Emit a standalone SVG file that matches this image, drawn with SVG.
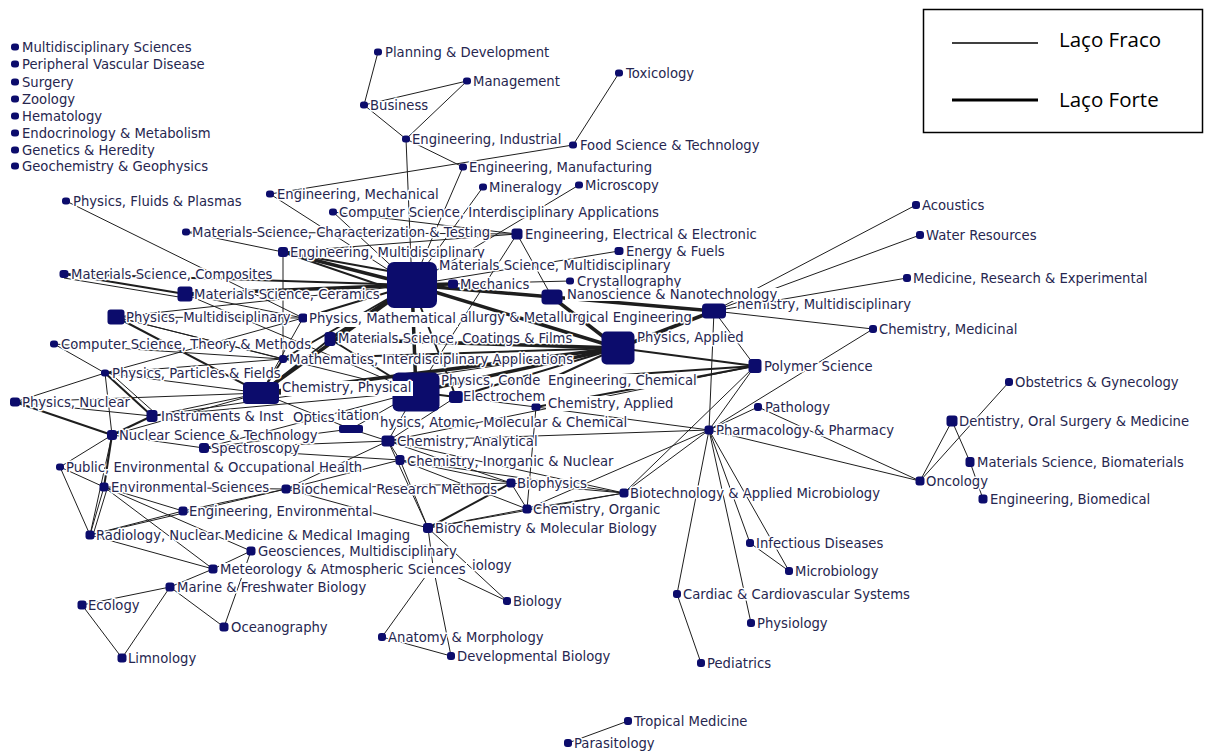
<svg xmlns="http://www.w3.org/2000/svg" width="1218" height="755" viewBox="0 0 1218 755">
<style>
.e{stroke:#1e1e1e;stroke-width:1;fill:none}
.m{stroke-width:2}
.k{stroke-width:3.5}
.n{fill:#0c0c6c}
.t{font-family:"DejaVu Sans","Liberation Sans",sans-serif;font-size:13.2px;fill:#26264f;stroke:#fff;stroke-width:3;paint-order:stroke;stroke-linejoin:round}
.w{fill:#fff}
.lg{font-family:"Open Sans","Liberation Sans",sans-serif;font-size:20.5px;fill:#000}
</style>
<rect width="1218" height="755" fill="#fff"/>
<g id="connectors" class="e">
<line x1="378" y1="52" x2="364" y2="105"/>
<line x1="364" y1="105" x2="467" y2="81"/>
<line x1="364" y1="105" x2="406" y2="139"/>
<line x1="467" y1="81" x2="406" y2="139"/>
<line x1="406" y1="139" x2="463" y2="167"/>
<line x1="406" y1="139" x2="412" y2="285"/>
<line x1="619" y1="73" x2="573" y2="145"/>
<line x1="573" y1="145" x2="270" y2="194"/>
<line x1="463" y1="167" x2="412" y2="285"/>
<line x1="483" y1="187" x2="412" y2="285"/>
<line x1="579" y1="185" x2="412" y2="285"/>
<line x1="270" y1="194" x2="412" y2="285"/>
<line x1="333" y1="212" x2="412" y2="285"/>
<line x1="66" y1="201" x2="303" y2="318"/>
<line x1="186" y1="232" x2="283" y2="252"/>
<line x1="517" y1="234" x2="186" y2="232"/>
<line x1="517" y1="234" x2="283" y2="252"/>
<line x1="517" y1="234" x2="416" y2="392"/>
<line x1="517" y1="234" x2="552" y2="297"/>
<line x1="517" y1="234" x2="333" y2="212"/>
<line x1="619" y1="251" x2="412" y2="285"/>
<line x1="570" y1="281" x2="412" y2="285"/>
<line x1="283" y1="252" x2="283" y2="359"/>
<line class="k" x1="283" y1="252" x2="412" y2="285"/>
<line class="m" x1="283" y1="252" x2="412" y2="296"/>
<line class="m" x1="283" y1="252" x2="405" y2="274"/>
<line class="k" x1="412" y1="285" x2="453" y2="284"/>
<line class="k" x1="412" y1="285" x2="552" y2="297"/>
<line class="k" x1="412" y1="285" x2="618" y2="348"/>
<line class="m" x1="412" y1="285" x2="714" y2="311"/>
<line class="k" x1="412" y1="285" x2="261" y2="393"/>
<line class="k" x1="412" y1="285" x2="416" y2="392"/>
<line class="k" x1="412" y1="285" x2="330" y2="339"/>
<line class="k" x1="412" y1="285" x2="185" y2="294"/>
<line class="m" x1="412" y1="285" x2="64" y2="274"/>
<line class="m" x1="412" y1="285" x2="303" y2="318"/>
<line x1="412" y1="285" x2="116" y2="317"/>
<line class="m" x1="412" y1="285" x2="283" y2="359"/>
<line class="m" x1="412" y1="285" x2="456" y2="397"/>
<line class="k" x1="552" y1="297" x2="618" y2="348"/>
<line class="k" x1="552" y1="297" x2="714" y2="311"/>
<line class="k" x1="618" y1="348" x2="714" y2="311"/>
<line class="k" x1="618" y1="348" x2="416" y2="392"/>
<line class="k" x1="618" y1="348" x2="261" y2="393"/>
<line class="k" x1="618" y1="348" x2="330" y2="339"/>
<line class="m" x1="618" y1="348" x2="755" y2="366"/>
<line class="m" x1="618" y1="348" x2="456" y2="397"/>
<line class="m" x1="618" y1="348" x2="283" y2="359"/>
<line class="m" x1="618" y1="348" x2="548" y2="380"/>
<line class="k" x1="416" y1="392" x2="261" y2="393"/>
<line class="m" x1="416" y1="392" x2="456" y2="397"/>
<line class="m" x1="261" y1="393" x2="283" y2="359"/>
<line x1="261" y1="393" x2="303" y2="318"/>
<line class="m" x1="261" y1="393" x2="330" y2="339"/>
<line class="m" x1="416" y1="392" x2="330" y2="339"/>
<line x1="714" y1="311" x2="755" y2="366"/>
<line x1="714" y1="311" x2="873" y2="329"/>
<line x1="714" y1="311" x2="709" y2="430"/>
<line x1="714" y1="311" x2="916" y2="205"/>
<line x1="714" y1="311" x2="920" y2="235"/>
<line x1="714" y1="311" x2="907" y2="278"/>
<line class="m" x1="755" y1="366" x2="548" y2="380"/>
<line x1="755" y1="366" x2="709" y2="430"/>
<line class="m" x1="755" y1="366" x2="536" y2="407"/>
<line x1="755" y1="366" x2="624" y2="493"/>
<line x1="755" y1="366" x2="388" y2="441"/>
<line x1="873" y1="329" x2="709" y2="430"/>
<line x1="758" y1="407" x2="709" y2="430"/>
<line x1="758" y1="407" x2="920" y2="481"/>
<line x1="709" y1="430" x2="920" y2="481"/>
<line x1="709" y1="430" x2="624" y2="493"/>
<line x1="709" y1="430" x2="750" y2="543"/>
<line x1="709" y1="430" x2="789" y2="571"/>
<line x1="709" y1="430" x2="751" y2="623"/>
<line x1="709" y1="430" x2="677" y2="594"/>
<line x1="709" y1="430" x2="536" y2="407"/>
<line x1="709" y1="430" x2="527" y2="509"/>
<line x1="750" y1="543" x2="789" y2="571"/>
<line x1="677" y1="594" x2="701" y2="663"/>
<line x1="1009" y1="382" x2="920" y2="481"/>
<line x1="952" y1="421" x2="920" y2="481"/>
<line x1="952" y1="421" x2="970" y2="462"/>
<line x1="970" y1="462" x2="983" y2="499"/>
<line x1="628" y1="721" x2="568" y2="743"/>
<line class="m" x1="64" y1="274" x2="185" y2="294"/>
<line x1="64" y1="278" x2="185" y2="298"/>
<line x1="185" y1="294" x2="303" y2="318"/>
<line x1="185" y1="294" x2="416" y2="392"/>
<line x1="116" y1="317" x2="303" y2="318"/>
<line class="m" x1="116" y1="317" x2="261" y2="393"/>
<line x1="116" y1="317" x2="283" y2="359"/>
<line x1="116" y1="317" x2="416" y2="392"/>
<line x1="54" y1="344" x2="105" y2="373"/>
<line x1="54" y1="344" x2="283" y2="359"/>
<line x1="105" y1="373" x2="15" y2="402"/>
<line class="m" x1="105" y1="373" x2="152" y2="416"/>
<line x1="108" y1="371" x2="155" y2="413"/>
<line x1="105" y1="373" x2="112" y2="435"/>
<line x1="105" y1="373" x2="283" y2="359"/>
<line x1="105" y1="373" x2="303" y2="318"/>
<line x1="105" y1="373" x2="261" y2="393"/>
<line x1="15" y1="402" x2="261" y2="393"/>
<line x1="15" y1="402" x2="152" y2="416"/>
<line class="m" x1="15" y1="402" x2="112" y2="435"/>
<line x1="152" y1="416" x2="261" y2="393"/>
<line x1="152" y1="416" x2="618" y2="348"/>
<line class="m" x1="152" y1="416" x2="112" y2="435"/>
<line x1="152" y1="416" x2="416" y2="392"/>
<line x1="112" y1="435" x2="60" y2="467"/>
<line class="m" x1="112" y1="435" x2="104" y2="487"/>
<line x1="112" y1="435" x2="204" y2="448"/>
<line x1="112" y1="435" x2="90" y2="535"/>
<line x1="112" y1="435" x2="261" y2="393"/>
<line x1="204" y1="448" x2="388" y2="441"/>
<line x1="204" y1="448" x2="351" y2="429"/>
<line x1="204" y1="448" x2="400" y2="460"/>
<line x1="204" y1="448" x2="416" y2="392"/>
<line x1="60" y1="467" x2="90" y2="535"/>
<line x1="60" y1="467" x2="104" y2="487"/>
<line x1="104" y1="487" x2="90" y2="535"/>
<line x1="107" y1="489" x2="93" y2="535"/>
<line x1="104" y1="487" x2="183" y2="511"/>
<line x1="104" y1="487" x2="286" y2="489"/>
<line x1="104" y1="487" x2="213" y2="569"/>
<line x1="104" y1="487" x2="251" y2="551"/>
<line x1="183" y1="511" x2="90" y2="535"/>
<line x1="183" y1="511" x2="286" y2="489"/>
<line x1="90" y1="535" x2="286" y2="489"/>
<line x1="90" y1="535" x2="213" y2="569"/>
<line x1="251" y1="551" x2="213" y2="569"/>
<line x1="213" y1="569" x2="170" y2="587"/>
<line x1="170" y1="587" x2="82" y2="605"/>
<line x1="170" y1="587" x2="122" y2="658"/>
<line x1="170" y1="587" x2="224" y2="627"/>
<line x1="224" y1="627" x2="251" y2="551"/>
<line x1="82" y1="605" x2="122" y2="658"/>
<line x1="286" y1="489" x2="428" y2="528"/>
<line x1="286" y1="489" x2="388" y2="441"/>
<line x1="286" y1="489" x2="400" y2="460"/>
<line x1="286" y1="489" x2="511" y2="483"/>
<line x1="388" y1="441" x2="511" y2="483"/>
<line x1="388" y1="441" x2="624" y2="493"/>
<line x1="388" y1="441" x2="351" y2="429"/>
<line x1="388" y1="441" x2="400" y2="460"/>
<line x1="388" y1="441" x2="709" y2="430"/>
<line x1="388" y1="441" x2="428" y2="528"/>
<line x1="400" y1="460" x2="511" y2="483"/>
<line x1="400" y1="460" x2="624" y2="493"/>
<line x1="400" y1="460" x2="527" y2="509"/>
<line x1="400" y1="460" x2="428" y2="528"/>
<line x1="511" y1="483" x2="527" y2="509"/>
<line x1="511" y1="483" x2="624" y2="493"/>
<line class="m" x1="511" y1="483" x2="428" y2="528"/>
<line x1="527" y1="509" x2="428" y2="528"/>
<line x1="527" y1="509" x2="624" y2="493"/>
<line x1="527" y1="509" x2="536" y2="407"/>
<line x1="428" y1="528" x2="624" y2="493"/>
<line x1="428" y1="528" x2="507" y2="601"/>
<line x1="428" y1="528" x2="433" y2="566"/>
<line x1="433" y1="566" x2="382" y2="637"/>
<line x1="433" y1="566" x2="451" y2="656"/>
<line x1="433" y1="566" x2="507" y2="601"/>
<line x1="382" y1="637" x2="451" y2="656"/>
<line x1="351" y1="429" x2="416" y2="392"/>
<line x1="351" y1="429" x2="261" y2="393"/>
<line x1="388" y1="441" x2="416" y2="392"/>
<line x1="456" y1="397" x2="536" y2="407"/>
<line x1="456" y1="397" x2="388" y2="441"/>
</g>
<g id="nodes">
<g id="n-mds"><rect class="n" x="11" y="43.5" width="8" height="7" rx="3"/><text class="t" x="22" y="52">Multidisciplinary Sciences</text></g>
<g id="n-pvd"><rect class="n" x="11" y="60.5" width="8" height="7" rx="3"/><text class="t" x="22" y="69">Peripheral Vascular Disease</text></g>
<g id="n-sur"><rect class="n" x="11" y="78.5" width="8" height="7" rx="3"/><text class="t" x="22" y="87">Surgery</text></g>
<g id="n-zoo"><rect class="n" x="11" y="95.5" width="8" height="7" rx="3"/><text class="t" x="22" y="104">Zoology</text></g>
<g id="n-hem"><rect class="n" x="11" y="112.5" width="8" height="7" rx="3"/><text class="t" x="22" y="121">Hematology</text></g>
<g id="n-end"><rect class="n" x="11" y="129.5" width="8" height="7" rx="3"/><text class="t" x="22" y="138">Endocrinology &amp; Metabolism</text></g>
<g id="n-gen"><rect class="n" x="11" y="146.5" width="8" height="7" rx="3"/><text class="t" x="22" y="155">Genetics &amp; Heredity</text></g>
<g id="n-geo"><rect class="n" x="11" y="162.5" width="8" height="7" rx="3"/><text class="t" x="22" y="171">Geochemistry &amp; Geophysics</text></g>
<g id="n-pla"><rect class="n" x="374" y="48.5" width="8" height="7" rx="3"/><text class="t" x="385" y="57">Planning &amp; Development</text></g>
<g id="n-man"><rect class="n" x="463" y="77.5" width="8" height="7" rx="3"/><text class="t" x="473" y="86">Management</text></g>
<g id="n-bus"><rect class="n" x="360" y="101.5" width="8" height="7" rx="3"/><text class="t" x="370" y="110">Business</text></g>
<g id="n-ein"><rect class="n" x="402" y="135.5" width="8" height="7" rx="3"/><text class="t" x="412" y="144">Engineering, Industrial</text></g>
<g id="n-tox"><rect class="n" x="615" y="69.5" width="8" height="7" rx="3"/><text class="t" x="626" y="78">Toxicology</text></g>
<g id="n-foo"><rect class="n" x="569" y="141.5" width="8" height="7" rx="3"/><text class="t" x="580" y="150">Food Science &amp; Technology</text></g>
<g id="n-emf"><rect class="n" x="459" y="163.5" width="8" height="7" rx="3"/><text class="t" x="469" y="172">Engineering, Manufacturing</text></g>
<g id="n-min"><rect class="n" x="479" y="183.5" width="8" height="7" rx="3"/><text class="t" x="489" y="192">Mineralogy</text></g>
<g id="n-mic"><rect class="n" x="575" y="181.5" width="8" height="7" rx="3"/><text class="t" x="585" y="190">Microscopy</text></g>
<g id="n-eme"><rect class="n" x="266" y="190.5" width="8" height="7" rx="3"/><text class="t" x="277" y="199">Engineering, Mechanical</text></g>
<g id="n-csi"><rect class="n" x="329" y="208.5" width="8" height="7" rx="3"/><text class="t" x="339" y="217">Computer Science, Interdisciplinary Applications</text></g>
<g id="n-flu"><rect class="n" x="62" y="197.5" width="8" height="7" rx="3"/><text class="t" x="73" y="206">Physics, Fluids &amp; Plasmas</text></g>
<g id="n-mct"><rect class="n" x="182" y="228.5" width="8" height="7" rx="3"/><text class="t" x="192" y="237">Materials Science, Characterization &amp; Testing</text></g>
<g id="n-emu"><rect class="n" x="278" y="247" width="10" height="10" rx="3"/><text class="t" x="290" y="257">Engineering, Multidisciplinary</text></g>
<g id="n-eee"><rect class="n" x="511.5" y="228.5" width="11" height="11" rx="3"/><text class="t" x="525" y="239">Engineering, Electrical &amp; Electronic</text></g>
<g id="n-enf"><rect class="n" x="614.5" y="247" width="9" height="8" rx="3"/><text class="t" x="626" y="256">Energy &amp; Fuels</text></g>
<g id="n-msm"><rect class="n" x="387" y="262" width="50" height="46" rx="7"/><text class="t" x="439" y="270">Materials Science, Multidisciplinary</text></g>
<g id="n-mec"><rect class="n" x="448" y="279.5" width="10" height="9" rx="3"/><text class="t" x="460" y="289">Mechanics</text></g>
<g id="n-cry"><rect class="n" x="566" y="277.5" width="8" height="7" rx="3"/><text class="t" x="577" y="286">Crystallography</text></g>
<g id="n-cmu"><rect class="n" x="702" y="303.5" width="24" height="15" rx="4"/><text class="t" x="737" y="309">hemistry, Multidisciplinary</text></g>
<g id="n-nan"><rect class="n" x="541.5" y="289.5" width="21" height="15" rx="4"/><rect class="w" x="565" y="288" width="213" height="13"/><text class="t" x="567" y="299">Nanoscience &amp; Nanotechnology</text></g>
<g id="n-com"><rect class="n" x="59.5" y="270" width="9" height="8" rx="3"/><text class="t" x="71" y="279">Materials Science, Composites</text></g>
<g id="n-cer"><rect class="n" x="177.5" y="286.5" width="15" height="15" rx="3"/><text class="t" x="194" y="299">Materials Science, Ceramics</text></g>
<g id="n-pmu"><rect class="n" x="107.5" y="309.5" width="17" height="15" rx="3"/><text class="t" x="126" y="322">Physics, Multidisciplinary</text></g>
<g id="n-met"><text class="t" x="460" y="322">allurgy &amp; Metallurgical Engineering</text></g>
<g id="n-pma"><rect class="n" x="298.5" y="313.5" width="9" height="9" rx="3"/><rect class="w" x="307" y="312" width="151" height="15"/><text class="t" x="309" y="323">Physics, Mathematical</text></g>
<g id="n-mcf"><rect class="n" x="324.5" y="332" width="11" height="14" rx="3"/><text class="t" x="338" y="343">Materials Science, Coatings &amp; Films</text></g>
<g id="n-cst"><rect class="n" x="50" y="340.5" width="8" height="7" rx="3"/><text class="t" x="61" y="349">Computer Science, Theory &amp; Methods</text></g>
<g id="n-mia"><rect class="n" x="279" y="355" width="8" height="8" rx="3"/><text class="t" x="289" y="364">Mathematics, Interdisciplinary Applications</text></g>
<g id="n-ppf"><rect class="n" x="101" y="369.5" width="8" height="7" rx="3"/><text class="t" x="112" y="378">Physics, Particles &amp; Fields</text></g>
<g id="n-pap"><rect class="n" x="601.5" y="331.5" width="33" height="33" rx="5"/><text class="t" x="637" y="342">Physics, Applied</text></g>
<g id="n-pcm"><rect class="n" x="392.5" y="372.5" width="47" height="39" rx="6"/><text class="t" x="441" y="385">Physics, Conde</text></g>
<g id="n-cph"><rect class="n" x="243" y="382" width="36" height="22" rx="4"/><rect class="w" x="281" y="381" width="132" height="15"/><text class="t" x="282" y="392">Chemistry, Physical</text></g>
<g id="n-elc"><rect class="n" x="449" y="391" width="14" height="12" rx="3"/><text class="t" x="463" y="401">Electrochem</text></g>
<g id="n-ech"><rect class="w" x="546" y="374" width="150" height="15"/><text class="t" x="548" y="385">Engineering, Chemical</text></g>
<g id="n-cap"><rect class="n" x="531.5" y="403.5" width="9" height="7" rx="2"/><rect class="w" x="546" y="396" width="122" height="15"/><text class="t" x="548" y="408">Chemistry, Applied</text></g>
<g id="n-pnu"><rect class="n" x="10" y="397.5" width="10" height="9" rx="3"/><text class="t" x="22" y="407">Physics, Nuclear</text></g>
<g id="n-pat"><rect class="n" x="339" y="425" width="24" height="8" rx="2"/><text class="t" x="380" y="427">hysics, Atomic, Molecular &amp; Chemical</text></g>
<g id="n-ins"><rect class="n" x="146.5" y="410" width="11" height="12" rx="3"/><text class="t" x="161" y="421">Instruments &amp; Inst</text><text class="t" x="337" y="420">itation</text></g>
<g id="n-opt"><text class="t" x="293" y="422">Optics</text></g>
<g id="n-nuc"><rect class="n" x="107" y="430" width="10" height="10" rx="3"/><text class="t" x="119" y="440">Nuclear Science &amp; Technology</text></g>
<g id="n-can"><rect class="n" x="381.5" y="435.5" width="13" height="11" rx="3"/><text class="t" x="397" y="446">Chemistry, Analytical</text></g>
<g id="n-spe"><rect class="n" x="199" y="443" width="10" height="10" rx="3"/><text class="t" x="211" y="453">Spectroscopy</text></g>
<g id="n-cin"><rect class="n" x="395.5" y="455" width="9" height="10" rx="3"/><text class="t" x="407" y="466">Chemistry, Inorganic &amp; Nuclear</text></g>
<g id="n-pub"><rect class="n" x="56" y="463.5" width="8" height="7" rx="3"/><text class="t" x="66" y="472">Public, Environmental &amp; Occupational Health</text></g>
<g id="n-env"><rect class="n" x="99.5" y="482.5" width="9" height="9" rx="3"/><text class="t" x="111" y="492">Environmental Sciences</text></g>
<g id="n-brm"><rect class="n" x="281.5" y="484.5" width="9" height="9" rx="3"/><text class="t" x="292" y="494">Biochemical Research Methods</text></g>
<g id="n-een"><rect class="n" x="178.5" y="506.5" width="9" height="9" rx="3"/><text class="t" x="189" y="516">Engineering, Environmental</text></g>
<g id="n-rad"><rect class="n" x="85.5" y="530.5" width="9" height="9" rx="3"/><text class="t" x="96" y="540">Radiology, Nuclear Medicine &amp; Medical Imaging</text></g>
<g id="n-gsc"><rect class="n" x="246.5" y="546.5" width="9" height="9" rx="3"/><text class="t" x="258" y="556">Geosciences, Multidisciplinary</text></g>
<g id="n-cel"><text class="t" x="472" y="570">iology</text></g>
<g id="n-mtr"><rect class="n" x="208.5" y="564.5" width="9" height="9" rx="3"/><rect class="w" x="219" y="563" width="248" height="15"/><text class="t" x="220" y="574">Meteorology &amp; Atmospheric Sciences</text></g>
<g id="n-mar"><rect class="n" x="165.5" y="582.5" width="9" height="9" rx="3"/><text class="t" x="177" y="592">Marine &amp; Freshwater Biology</text></g>
<g id="n-eco"><rect class="n" x="77.5" y="600.5" width="9" height="9" rx="3"/><text class="t" x="88" y="610">Ecology</text></g>
<g id="n-oce"><rect class="n" x="219.5" y="622.5" width="9" height="9" rx="3"/><text class="t" x="231" y="632">Oceanography</text></g>
<g id="n-lim"><rect class="n" x="117.5" y="653.5" width="9" height="9" rx="3"/><text class="t" x="128" y="663">Limnology</text></g>
<g id="n-bph"><rect class="n" x="506.5" y="478.5" width="9" height="9" rx="3"/><text class="t" x="517" y="488">Biophysics</text></g>
<g id="n-bio"><rect class="n" x="619.5" y="488.5" width="9" height="9" rx="3"/><text class="t" x="630" y="498">Biotechnology &amp; Applied Microbiology</text></g>
<g id="n-cor"><rect class="n" x="522.5" y="504.5" width="9" height="9" rx="3"/><text class="t" x="533" y="514">Chemistry, Organic</text></g>
<g id="n-bmb"><rect class="n" x="423" y="523" width="10" height="10" rx="3"/><text class="t" x="435" y="533">Biochemistry &amp; Molecular Biology</text></g>
<g id="n-biol"><rect class="n" x="503" y="597" width="8" height="8" rx="3"/><text class="t" x="513" y="606">Biology</text></g>
<g id="n-ana"><rect class="n" x="378" y="633" width="8" height="8" rx="3"/><text class="t" x="388" y="642">Anatomy &amp; Morphology</text></g>
<g id="n-dev"><rect class="n" x="447" y="652" width="8" height="8" rx="3"/><text class="t" x="457" y="661">Developmental Biology</text></g>
<g id="n-pha"><rect class="n" x="704.5" y="425.5" width="9" height="9" rx="3"/><text class="t" x="716" y="435">Pharmacology &amp; Pharmacy</text></g>
<g id="n-pol"><rect class="n" x="748.5" y="359" width="13" height="14" rx="3"/><text class="t" x="764" y="371">Polymer Science</text></g>
<g id="n-pth"><rect class="n" x="754" y="403" width="8" height="8" rx="3"/><text class="t" x="765" y="412">Pathology</text></g>
<g id="n-cme"><rect class="n" x="869" y="325" width="8" height="8" rx="3"/><text class="t" x="879" y="334">Chemistry, Medicinal</text></g>
<g id="n-aco"><rect class="n" x="912" y="201" width="8" height="8" rx="3"/><text class="t" x="922" y="210">Acoustics</text></g>
<g id="n-wat"><rect class="n" x="916" y="231" width="8" height="8" rx="3"/><text class="t" x="926" y="240">Water Resources</text></g>
<g id="n-mre"><rect class="n" x="903" y="274" width="8" height="8" rx="3"/><text class="t" x="913" y="283">Medicine, Research &amp; Experimental</text></g>
<g id="n-obs"><rect class="n" x="1005" y="378" width="8" height="8" rx="3"/><text class="t" x="1015" y="387">Obstetrics &amp; Gynecology</text></g>
<g id="n-den"><rect class="n" x="946.5" y="415.5" width="11" height="11" rx="3"/><text class="t" x="959" y="426">Dentistry, Oral Surgery &amp; Medicine</text></g>
<g id="n-msb"><rect class="n" x="965.5" y="457" width="9" height="10" rx="3"/><text class="t" x="977" y="467">Materials Science, Biomaterials</text></g>
<g id="n-onc"><rect class="n" x="915.5" y="476.5" width="9" height="9" rx="3"/><text class="t" x="926" y="486">Oncology</text></g>
<g id="n-ebm"><rect class="n" x="978.5" y="494.5" width="9" height="9" rx="3"/><text class="t" x="990" y="504">Engineering, Biomedical</text></g>
<g id="n-inf"><rect class="n" x="746" y="539" width="8" height="8" rx="3"/><text class="t" x="756" y="548">Infectious Diseases</text></g>
<g id="n-mcb"><rect class="n" x="785" y="567" width="8" height="8" rx="3"/><text class="t" x="795" y="576">Microbiology</text></g>
<g id="n-car"><rect class="n" x="673" y="590" width="8" height="8" rx="3"/><text class="t" x="683" y="599">Cardiac &amp; Cardiovascular Systems</text></g>
<g id="n-phy"><rect class="n" x="747" y="619" width="8" height="8" rx="3"/><text class="t" x="757" y="628">Physiology</text></g>
<g id="n-ped"><rect class="n" x="697" y="659" width="8" height="8" rx="3"/><text class="t" x="707" y="668">Pediatrics</text></g>
<g id="n-tro"><rect class="n" x="624" y="717" width="8" height="8" rx="3"/><text class="t" x="634" y="726">Tropical Medicine</text></g>
<g id="n-par"><rect class="n" x="564" y="739" width="8" height="8" rx="3"/><text class="t" x="574" y="748">Parasitology</text></g>
</g>
<g id="legend">
<rect x="923.5" y="9.5" width="279" height="123" fill="#fff" stroke="#000" stroke-width="1.5"/>
<line x1="952" y1="43" x2="1038" y2="43" stroke="#000" stroke-width="1.3"/>
<line x1="952" y1="100" x2="1038" y2="100" stroke="#000" stroke-width="3"/>
<text class="lg" x="1059" y="47">Laço Fraco</text>
<text class="lg" x="1059" y="107">Laço Forte</text>
</g>
</svg>
